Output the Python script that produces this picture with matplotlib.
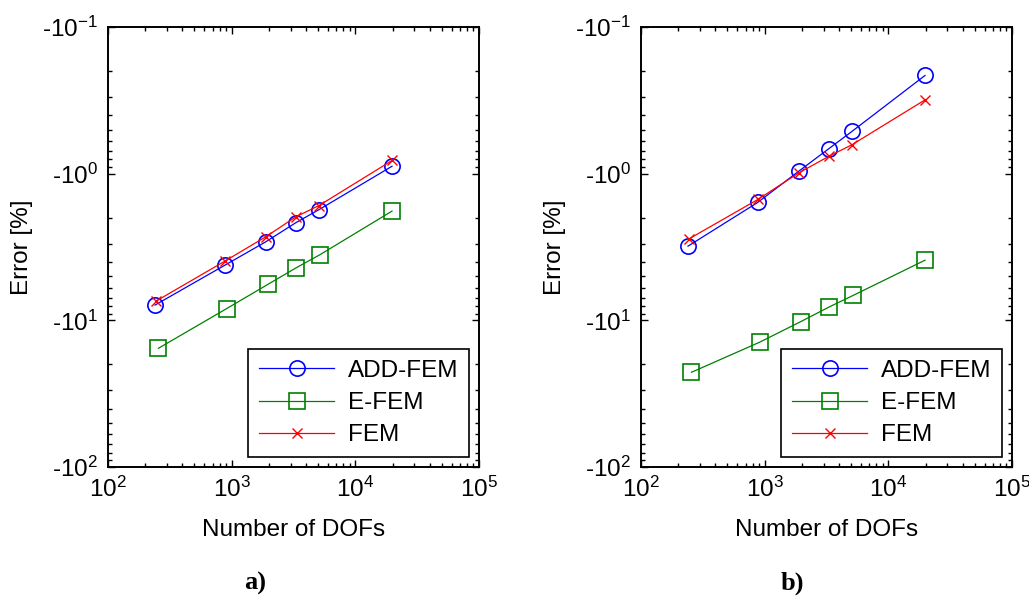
import matplotlib
matplotlib.use("Agg")
import matplotlib.pyplot as plt
from matplotlib.ticker import LogLocator, FixedLocator, NullFormatter

plt.rcParams.update({
    "font.family": "Liberation Sans",
    "mathtext.fontset": "custom",
    "mathtext.rm": "Liberation Sans",
    "mathtext.default": "regular",
    "font.size": 17.5,
})

# ── data (number of DOFs vs |error| in %) ────────────────────────────────────
DOF_ADD  = [240, 880, 1880, 3300, 5080, 19800]
DOF_EFEM = [256, 910, 1960, 3330, 5200, 19800]
DOF_FEM  = [245, 880, 1880, 3300, 5080, 19800]

ERR_A_ADD  = [7.87, 4.21, 2.92, 2.16, 1.76, 0.89]
ERR_A_EFEM = [15.5, 8.32, 5.69, 4.38, 3.56, 1.80]
ERR_A_FEM  = [7.39, 3.95, 2.70, 1.97, 1.65, 0.813]

ERR_B_ADD  = [3.12, 1.57, 0.964, 0.676, 0.515, 0.214]
ERR_B_EFEM = [22.6, 14.1, 10.2, 8.1, 6.76, 3.89]
ERR_B_FEM  = [2.78, 1.50, 0.99, 0.762, 0.635, 0.314]

X_TICKS = [1e2, 1e3, 1e4, 1e5]
X_LABELS = ["$10^{2}$", "$10^{3}$", "$10^{4}$", "$10^{5}$"]
Y_TICKS = [1e-1, 1e0, 1e1, 1e2]
Y_LABELS = ["-10$^{-1}$", "-10$^{0}$", "-10$^{1}$", "-10$^{2}$"]

BLUE, GREEN, RED = "#0000ff", "#008000", "#ff0000"
FS = 17.5

W, H = 1029, 598
fig = plt.figure(figsize=(W / 100, H / 100), dpi=100)

panels = [
    (108, "a)", 255, ERR_A_ADD, ERR_A_EFEM, ERR_A_FEM),
    (641, "b)", 792, ERR_B_ADD, ERR_B_EFEM, ERR_B_FEM),
]

for left_px, tag, tag_x, e_add, e_efem, e_fem in panels:
    ax = fig.add_axes([left_px / W, 1 - 467 / H, 371 / W, 440 / H])
    ax.plot(DOF_ADD, e_add, "-o", color=BLUE, lw=0.9, ms=11,
            mfc="none", mew=1.2, label="ADD-FEM")
    ax.plot(DOF_EFEM, e_efem, "-s", color=GREEN, lw=0.9, ms=11,
            mfc="none", mew=1.2, label="E-FEM")
    ax.plot(DOF_FEM, e_fem, "-x", color=RED, lw=0.9, ms=7,
            mew=1.0, label="FEM")

    ax.set_xscale("log")
    ax.set_yscale("log")
    ax.set_xlim(1e2, 1e5)
    ax.set_ylim(1e2, 1e-1)  # inverted: magnitude grows downward

    ax.xaxis.set_major_locator(FixedLocator(X_TICKS))
    ax.set_xticklabels(X_LABELS)
    ax.yaxis.set_major_locator(FixedLocator(Y_TICKS))
    ax.set_yticklabels(Y_LABELS)
    for axis in (ax.xaxis, ax.yaxis):
        axis.set_minor_locator(LogLocator(base=10, subs=range(2, 10), numticks=20))
        axis.set_minor_formatter(NullFormatter())

    ax.tick_params(which="both", direction="in", top=True, right=True,
                   labelsize=FS, width=1.0)
    ax.tick_params(which="major", length=5, pad=7)
    ax.tick_params(which="minor", length=3)
    for sp in ax.spines.values():
        sp.set_linewidth(1.4)

    ax.set_xlabel("Number of DOFs", fontsize=FS)
    ax.xaxis.set_label_coords(0.5, (467 - 530) / 440)
    ax.xaxis.label.set_va("center")
    ax.set_ylabel("Error [%]", fontsize=FS)
    ax.yaxis.set_label_coords(-0.232, 0.5)
    ax.yaxis.label.set_va("center")

    leg = ax.legend(loc="lower right", fancybox=False, framealpha=1,
                    edgecolor="black", handlelength=3.1, fontsize=FS,
                    borderaxespad=0.4, labelspacing=0.42, handletextpad=0.55,
                    borderpad=0.45)
    leg.get_frame().set_linewidth(1.2)

    fig.text(tag_x / W, 1 - 583 / H, tag, family="Liberation Serif",
             fontweight="bold", fontsize=19, ha="center", va="center")

fig.savefig("out.png", dpi=100)
